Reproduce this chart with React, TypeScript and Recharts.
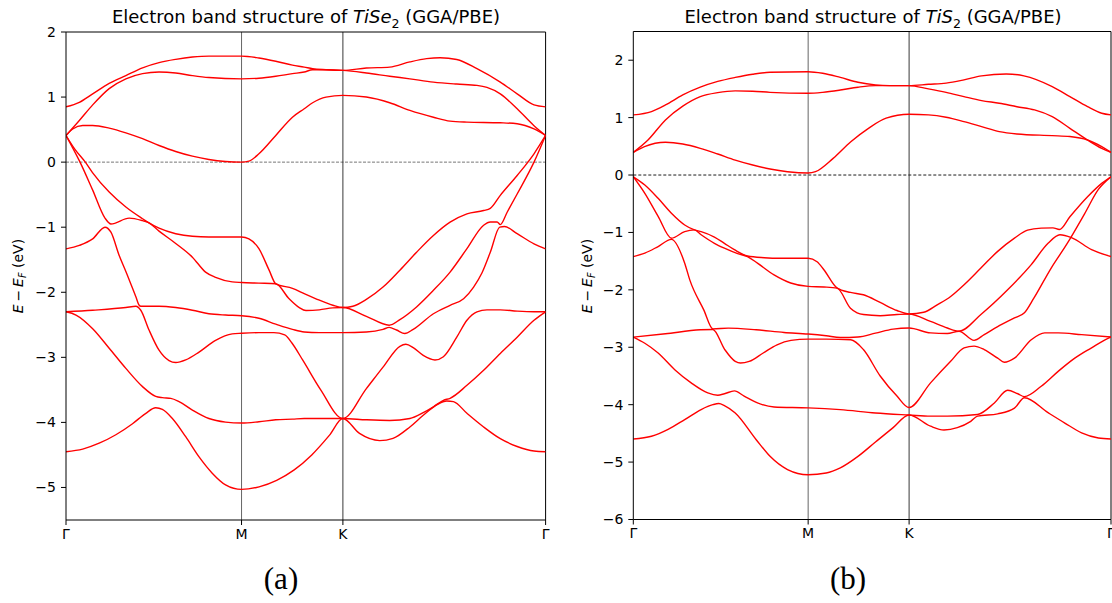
import React from 'react';
import { LineChart, Line, XAxis, YAxis, ReferenceLine } from 'recharts';

type Pt = [number, number];

// k-path positions (Γ–M–K–Γ), tick labels
const kTicks = [0, 1, 1.5774, 2.7321];
const kLabels = ['Γ', 'M', 'K', 'Γ'];

// ---------- TiSe2 bands (k, E-Ef in eV) ----------
const tise2Band1: Pt[] = [[0,0.85],[0.076,0.92],[0.152,1.05],[0.246,1.21],[0.341,1.33],[0.436,1.45],[0.53,1.53],[0.625,1.58],[0.72,1.615],[0.814,1.63],[1.0,1.63],[1.099,1.6],[1.195,1.55],[1.29,1.49],[1.357,1.46],[1.405,1.435],[1.481,1.42],[1.577,1.41],[1.711,1.446],[1.844,1.46],[1.959,1.54],[2.054,1.59],[2.131,1.605],[2.226,1.577],[2.341,1.436],[2.474,1.23],[2.57,1.05],[2.666,0.88],[2.732,0.85]];
const tise2Band2: Pt[] = [[0,0.41],[0.076,0.64],[0.152,0.88],[0.246,1.13],[0.341,1.28],[0.436,1.36],[0.53,1.385],[0.625,1.37],[0.72,1.33],[0.814,1.3],[1.0,1.28],[1.099,1.29],[1.195,1.32],[1.29,1.36],[1.357,1.385],[1.405,1.42],[1.481,1.42],[1.577,1.41],[1.711,1.37],[1.844,1.32],[1.959,1.28],[2.093,1.23],[2.226,1.2],[2.341,1.18],[2.398,1.15],[2.474,1.05],[2.57,0.82],[2.666,0.56],[2.732,0.41]];
const tise2Band3: Pt[] = [[0,0.41],[0.038,0.51],[0.095,0.564],[0.152,0.564],[0.246,0.523],[0.341,0.45],[0.436,0.36],[0.53,0.256],[0.625,0.164],[0.72,0.092],[0.814,0.041],[0.909,0.01],[1.0,0.0],[1.042,0.015],[1.099,0.128],[1.195,0.41],[1.29,0.69],[1.357,0.82],[1.405,0.913],[1.481,1.0],[1.577,1.026],[1.711,1.0],[1.844,0.913],[1.959,0.795],[2.093,0.69],[2.188,0.63],[2.284,0.615],[2.474,0.605],[2.57,0.59],[2.666,0.51],[2.732,0.41]];
const tise2Band4: Pt[] = [[0,0.41],[0.05,0.2],[0.11,0.0],[0.151,-0.16],[0.246,-0.46],[0.341,-0.69],[0.436,-0.87],[0.47,-0.93],[0.53,-1.015],[0.625,-1.1],[0.72,-1.14],[0.814,-1.15],[1.0,-1.15],[1.042,-1.18],[1.099,-1.33],[1.157,-1.66],[1.195,-1.87],[1.29,-1.94],[1.357,-2.02],[1.424,-2.1],[1.52,-2.2],[1.577,-2.235],[1.634,-2.215],[1.711,-2.11],[1.806,-1.92],[1.902,-1.66],[1.997,-1.385],[2.093,-1.128],[2.188,-0.923],[2.284,-0.795],[2.379,-0.744],[2.417,-0.71],[2.474,-0.51],[2.57,-0.205],[2.666,0.128],[2.732,0.41]];
const tise2Band5: Pt[] = [[0,0.41],[0.08,0.0],[0.152,-0.43],[0.222,-0.86],[0.256,-0.95],[0.36,-0.86],[0.436,-0.9],[0.47,-0.93],[0.53,-1.06],[0.625,-1.25],[0.72,-1.46],[0.795,-1.69],[0.852,-1.77],[0.947,-1.84],[1.0,-1.85],[1.099,-1.86],[1.195,-1.87],[1.271,-2.1],[1.329,-2.235],[1.367,-2.28],[1.443,-2.27],[1.52,-2.24],[1.577,-2.235],[1.711,-2.37],[1.841,-2.506],[1.902,-2.42],[1.997,-2.225],[2.093,-1.97],[2.188,-1.69],[2.284,-1.33],[2.379,-0.97],[2.417,-0.92],[2.456,-0.92],[2.474,-0.96],[2.513,-0.77],[2.57,-0.49],[2.666,0.0],[2.732,0.41]];
const tise2Band6: Pt[] = [[0,-1.333],[0.076,-1.28],[0.152,-1.18],[0.222,-1.0],[0.256,-1.077],[0.303,-1.436],[0.341,-1.68],[0.398,-2.07],[0.417,-2.2],[0.426,-2.215],[0.53,-2.215],[0.625,-2.235],[0.72,-2.276],[0.814,-2.33],[0.909,-2.35],[1.0,-2.36],[1.099,-2.4],[1.195,-2.49],[1.29,-2.57],[1.357,-2.61],[1.443,-2.62],[1.577,-2.62],[1.711,-2.61],[1.806,-2.57],[1.841,-2.54],[1.883,-2.58],[1.93,-2.634],[1.978,-2.57],[2.093,-2.33],[2.188,-2.2],[2.265,-2.1],[2.322,-1.92],[2.37,-1.7],[2.417,-1.385],[2.471,-1.0],[2.498,-0.99],[2.57,-1.1],[2.666,-1.256],[2.732,-1.333]];
const tise2Band7: Pt[] = [[0,-2.3],[0.152,-2.276],[0.341,-2.235],[0.398,-2.215],[0.426,-2.276],[0.473,-2.58],[0.53,-2.89],[0.587,-3.05],[0.625,-3.08],[0.682,-3.04],[0.758,-2.92],[0.852,-2.74],[0.947,-2.64],[1.0,-2.63],[1.099,-2.62],[1.184,-2.62],[1.246,-2.655],[1.287,-2.78],[1.348,-3.04],[1.451,-3.5],[1.577,-3.94],[1.711,-3.48],[1.806,-3.15],[1.902,-2.83],[1.936,-2.8],[1.978,-2.85],[2.035,-2.97],[2.102,-3.04],[2.15,-2.99],[2.226,-2.69],[2.284,-2.43],[2.341,-2.3],[2.398,-2.27],[2.474,-2.27],[2.57,-2.29],[2.666,-2.3],[2.732,-2.3]];
const tise2Band8: Pt[] = [[0,-2.3],[0.057,-2.35],[0.152,-2.56],[0.246,-2.86],[0.341,-3.17],[0.436,-3.45],[0.511,-3.6],[0.549,-3.62],[0.597,-3.63],[0.644,-3.68],[0.72,-3.81],[0.814,-3.94],[0.909,-3.995],[1.0,-4.01],[1.099,-3.99],[1.195,-3.96],[1.29,-3.95],[1.357,-3.94],[1.577,-3.94],[1.711,-3.96],[1.844,-3.97],[1.959,-3.94],[2.035,-3.85],[2.093,-3.76],[2.15,-3.66],[2.188,-3.63],[2.284,-3.43],[2.379,-3.2],[2.474,-2.94],[2.57,-2.69],[2.666,-2.43],[2.732,-2.3]];
const tise2Band9: Pt[] = [[0,-4.45],[0.095,-4.41],[0.189,-4.32],[0.284,-4.19],[0.379,-4.02],[0.455,-3.86],[0.511,-3.775],[0.549,-3.8],[0.606,-3.94],[0.682,-4.22],[0.758,-4.53],[0.833,-4.78],[0.909,-4.96],[1.0,-5.03],[1.1,-4.99],[1.2,-4.89],[1.3,-4.73],[1.4,-4.5],[1.5,-4.2],[1.577,-3.94],[1.672,-4.17],[1.787,-4.28],[1.863,-4.245],[1.959,-4.07],[2.035,-3.89],[2.112,-3.73],[2.169,-3.67],[2.207,-3.68],[2.284,-3.86],[2.379,-4.07],[2.474,-4.25],[2.57,-4.37],[2.666,-4.44],[2.732,-4.45]];

// ---------- TiS2 bands (k, E-Ef in eV) ----------
const tis2Band1: Pt[] = [[0,1.047],[0.104,1.105],[0.184,1.22],[0.283,1.395],[0.383,1.53],[0.483,1.63],[0.583,1.7],[0.683,1.756],[0.782,1.79],[1.0,1.8],[1.083,1.773],[1.184,1.7],[1.285,1.616],[1.385,1.57],[1.466,1.558],[1.577,1.558],[1.688,1.58],[1.789,1.6],[1.891,1.657],[1.992,1.727],[2.133,1.76],[2.234,1.727],[2.396,1.54],[2.497,1.366],[2.598,1.19],[2.679,1.076],[2.732,1.047]];
const tis2Band2: Pt[] = [[0,0.395],[0.084,0.61],[0.184,0.96],[0.283,1.2],[0.383,1.366],[0.483,1.436],[0.583,1.465],[0.683,1.46],[0.782,1.44],[1.0,1.424],[1.083,1.44],[1.184,1.48],[1.285,1.53],[1.385,1.558],[1.577,1.558],[1.688,1.5],[1.789,1.44],[1.891,1.366],[1.992,1.297],[2.093,1.25],[2.194,1.19],[2.295,1.134],[2.396,1.017],[2.497,0.814],[2.598,0.61],[2.679,0.465],[2.732,0.395]];
const tis2Band3: Pt[] = [[0,0.395],[0.064,0.494],[0.184,0.57],[0.283,0.54],[0.383,0.465],[0.483,0.366],[0.583,0.26],[0.683,0.174],[0.782,0.105],[0.882,0.058],[1.0,0.035],[1.042,0.058],[1.143,0.29],[1.244,0.58],[1.345,0.814],[1.446,0.99],[1.577,1.058],[1.688,1.047],[1.789,1.006],[1.891,0.93],[1.992,0.843],[2.093,0.756],[2.194,0.715],[2.396,0.686],[2.497,0.67],[2.598,0.61],[2.679,0.494],[2.732,0.395]];
const tis2Band4: Pt[] = [[0,-0.03],[0.066,-0.174],[0.142,-0.406],[0.218,-0.666],[0.294,-0.87],[0.35,-0.956],[0.388,-0.985],[0.464,-1.08],[0.521,-1.19],[0.578,-1.3],[0.653,-1.41],[0.748,-1.44],[0.843,-1.45],[1.0,-1.45],[1.051,-1.51],[1.09,-1.65],[1.166,-1.97],[1.242,-2.045],[1.316,-2.086],[1.412,-2.22],[1.508,-2.36],[1.577,-2.42],[1.661,-2.39],[1.738,-2.26],[1.815,-2.115],[1.892,-1.91],[1.988,-1.62],[2.084,-1.33],[2.18,-1.1],[2.255,-0.96],[2.333,-0.925],[2.4,-0.92],[2.437,-0.95],[2.497,-0.727],[2.598,-0.378],[2.679,-0.145],[2.732,-0.03]];
const tis2Band5: Pt[] = [[0,-0.03],[0.066,-0.32],[0.142,-0.72],[0.218,-1.1],[0.294,-0.985],[0.35,-0.956],[0.388,-1.04],[0.464,-1.19],[0.521,-1.275],[0.597,-1.37],[0.653,-1.42],[0.71,-1.535],[0.805,-1.74],[0.9,-1.88],[1.0,-1.94],[1.09,-1.95],[1.166,-1.97],[1.242,-2.32],[1.28,-2.4],[1.316,-2.43],[1.412,-2.45],[1.508,-2.43],[1.577,-2.42],[1.7,-2.55],[1.796,-2.665],[1.863,-2.72],[1.988,-2.43],[2.141,-2.0],[2.276,-1.56],[2.372,-1.19],[2.44,-1.04],[2.506,-1.09],[2.621,-1.3],[2.732,-1.42]];
const tis2Band6: Pt[] = [[0,-1.42],[0.066,-1.36],[0.142,-1.245],[0.218,-1.12],[0.294,-1.535],[0.323,-1.826],[0.403,-2.348],[0.455,-2.68],[0.543,-2.667],[0.703,-2.696],[0.862,-2.742],[1.0,-2.77],[1.103,-2.8],[1.184,-2.83],[1.285,-2.82],[1.385,-2.754],[1.486,-2.684],[1.577,-2.665],[1.7,-2.75],[1.796,-2.76],[1.863,-2.72],[1.949,-2.88],[2.007,-2.78],[2.084,-2.64],[2.18,-2.49],[2.237,-2.4],[2.29,-2.15],[2.39,-1.62],[2.48,-1.2],[2.58,-0.68],[2.66,-0.25],[2.732,-0.03]];
const tis2Band7: Pt[] = [[0,-2.823],[0.184,-2.765],[0.383,-2.696],[0.455,-2.69],[0.523,-3.04],[0.583,-3.246],[0.613,-3.275],[0.663,-3.246],[0.743,-3.1],[0.822,-2.957],[0.902,-2.88],[1.0,-2.858],[1.103,-2.858],[1.244,-2.87],[1.316,-3.04],[1.412,-3.5],[1.508,-3.85],[1.577,-4.05],[1.7,-3.62],[1.815,-3.245],[1.892,-3.01],[1.949,-2.98],[2.007,-3.04],[2.084,-3.19],[2.122,-3.26],[2.18,-3.19],[2.276,-2.87],[2.353,-2.75],[2.43,-2.75],[2.564,-2.78],[2.732,-2.82]];
const tis2Band8: Pt[] = [[0,-2.823],[0.066,-2.93],[0.142,-3.1],[0.237,-3.39],[0.331,-3.62],[0.426,-3.795],[0.483,-3.835],[0.521,-3.81],[0.578,-3.76],[0.634,-3.85],[0.71,-3.97],[0.805,-4.04],[1.0,-4.055],[1.184,-4.087],[1.385,-4.145],[1.577,-4.18],[1.7,-4.2],[1.796,-4.2],[1.969,-4.17],[2.065,-3.97],[2.141,-3.75],[2.199,-3.81],[2.237,-3.86],[2.333,-3.68],[2.43,-3.42],[2.525,-3.19],[2.621,-3.01],[2.698,-2.87],[2.732,-2.82]];
const tis2Band9: Pt[] = [[0,-4.597],[0.104,-4.55],[0.199,-4.43],[0.294,-4.26],[0.388,-4.085],[0.455,-4.0],[0.489,-3.98],[0.521,-4.015],[0.583,-4.145],[0.703,-4.61],[0.782,-4.9],[0.882,-5.13],[1.0,-5.22],[1.103,-5.19],[1.184,-5.1],[1.285,-4.9],[1.385,-4.65],[1.486,-4.4],[1.577,-4.18],[1.7,-4.375],[1.777,-4.44],[1.853,-4.4],[1.93,-4.29],[1.969,-4.2],[2.084,-4.16],[2.18,-4.06],[2.237,-3.88],[2.372,-4.14],[2.468,-4.32],[2.564,-4.49],[2.66,-4.58],[2.732,-4.597]];

const tise2Bands = [tise2Band1, tise2Band2, tise2Band3, tise2Band4, tise2Band5, tise2Band6, tise2Band7, tise2Band8, tise2Band9];
const tis2Bands = [tis2Band1, tis2Band2, tis2Band3, tis2Band4, tis2Band5, tis2Band6, tis2Band7, tis2Band8, tis2Band9];

const tise2YTicks = [-5, -4, -3, -2, -1, 0, 1, 2];
const tis2YTicks = [-6, -5, -4, -3, -2, -1, 0, 1, 2];

const FONT = '"DejaVu Sans", sans-serif';

const fmtY = (v: number) => (v < 0 ? '\u2212' + Math.abs(v) : String(v));
const fmtX = (v: number) => {
  const i = kTicks.findIndex((t) => Math.abs(t - v) < 1e-6);
  return i >= 0 ? kLabels[i] : '';
};

type PanelProps = {
  bands: Pt[][];
  yDomain: [number, number];
  yTicks: number[];
  width: number;
  height: number;
  margin: { top: number; right: number; bottom: number; left: number };
  yAxisWidth: number;
  zeroStroke: string;
  zeroDash: string;
  zeroWidth: number;
};

function Panel(p: PanelProps) {
  const tickStyle = { fontSize: 14, fill: '#000', fontFamily: FONT };
  return (
    <LineChart width={p.width} height={p.height} margin={p.margin}>
      <XAxis
        type="number"
        dataKey="k"
        domain={[0, 2.7321]}
        ticks={kTicks}
        tickFormatter={fmtX}
        allowDataOverflow
        interval={0}
        tick={tickStyle}
        tickSize={5}
        tickMargin={4}
        height={30}
        axisLine={{ stroke: '#000', strokeWidth: 1 }}
        tickLine={{ stroke: '#000' }}
      />
      <YAxis
        type="number"
        domain={p.yDomain}
        ticks={p.yTicks}
        tickFormatter={fmtY}
        allowDataOverflow
        interval={0}
        width={p.yAxisWidth}
        tick={tickStyle}
        tickSize={5}
        tickMargin={5}
        axisLine={{ stroke: '#000', strokeWidth: 1 }}
        tickLine={{ stroke: '#000' }}
      />
      <ReferenceLine y={0} stroke={p.zeroStroke} strokeDasharray={p.zeroDash} strokeWidth={p.zeroWidth} />
      <ReferenceLine x={1} stroke="#555" strokeWidth={0.9} />
      <ReferenceLine x={1.5774} stroke="#222" strokeWidth={0.9} />
      <ReferenceLine x={2.7321} stroke="#000" strokeWidth={1} />
      <ReferenceLine y={p.yDomain[1]} stroke="#000" strokeWidth={1} />
      {p.bands.map((b, i) => (
        <Line
          key={i}
          data={b.map(([k, e]) => ({ k, e }))}
          dataKey="e"
          type="monotone"
          stroke="#ff0000"
          strokeWidth={1.4}
          dot={false}
          activeDot={false}
          isAnimationActive={false}
        />
      ))}
    </LineChart>
  );
}

function YLabel({ x, y }: { x: number; y: number }) {
  return (
    <div
      style={{
        position: 'absolute',
        left: x,
        top: y,
        transform: 'translate(-50%, -50%) rotate(-90deg)',
        fontFamily: FONT,
        fontSize: 14,
        whiteSpace: 'nowrap',
        color: '#000',
      }}
    >
      <i>E</i>{'\u2009\u2212\u2009'}<i>E</i>
      <sub style={{ fontSize: '70%', fontStyle: 'italic' }}>F</sub> (eV)
    </div>
  );
}

function Title({ x, formula }: { x: number; formula: string }) {
  return (
    <div
      style={{
        position: 'absolute',
        left: x,
        top: 6,
        transform: 'translateX(-50%)',
        fontFamily: FONT,
        fontSize: 18,
        whiteSpace: 'nowrap',
        color: '#000',
      }}
    >
      Electron band structure of <i>{formula}</i>
      <sub style={{ fontSize: '70%' }}>2</sub> (GGA/PBE)
    </div>
  );
}

function Caption({ x, text }: { x: number; text: string }) {
  return (
    <div
      style={{
        position: 'absolute',
        left: x,
        top: 561,
        transform: 'translateX(-50%)',
        fontFamily: '"Liberation Serif", serif',
        fontSize: 31,
        color: '#000',
      }}
    >
      {text}
    </div>
  );
}

export default function App() {
  return (
    <div style={{ position: 'absolute', left: 0, top: 0, width: 1112, height: 603, background: '#fff', overflow: 'hidden' }}>
      <div style={{ position: 'absolute', left: 0, top: 0 }}>
        <Panel
          bands={tise2Bands}
          yDomain={[-5.5, 2]}
          yTicks={tise2YTicks}
          width={560}
          height={603}
          margin={{ top: 32, right: 14.4, bottom: 53, left: 0 }}
          yAxisWidth={66}
          zeroStroke="#777"
          zeroDash="3 1.5"
          zeroWidth={1}
        />
      </div>
      <div style={{ position: 'absolute', left: 560, top: 0 }}>
        <Panel
          bands={tis2Bands}
          yDomain={[-6, 2.5]}
          yTicks={tis2YTicks}
          width={552}
          height={603}
          margin={{ top: 31.5, right: 1, bottom: 53.5, left: 0 }}
          yAxisWidth={73.3}
          zeroStroke="#000"
          zeroDash="3 2"
          zeroWidth={0.9}
        />
      </div>
      <Title x={306} formula="TiSe" />
      <Title x={873} formula="TiS" />
      <YLabel x={19} y={276} />
      <YLabel x={588} y={276} />
      <Caption x={281} text="(a)" />
      <Caption x={848} text="(b)" />
    </div>
  );
}
